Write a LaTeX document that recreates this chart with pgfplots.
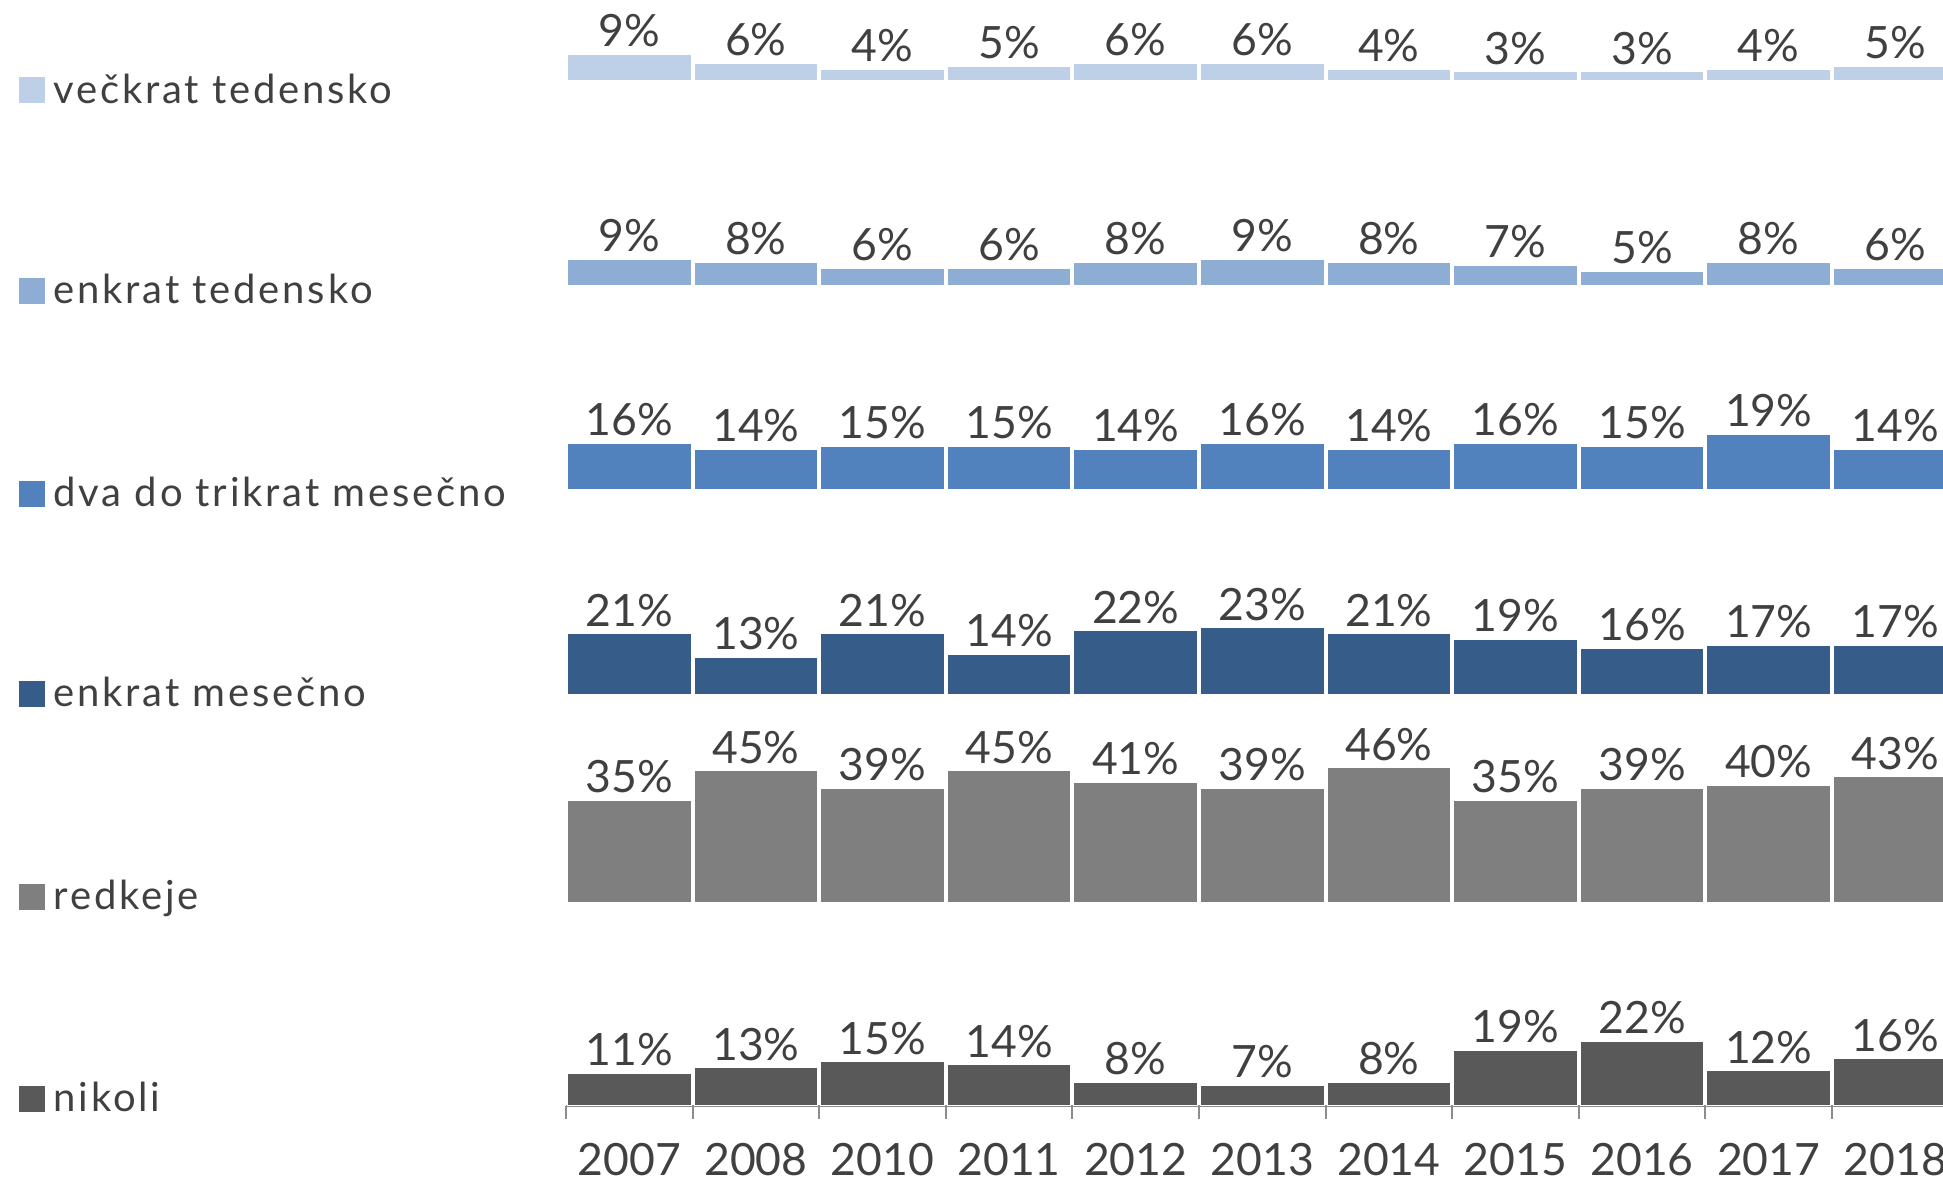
\documentclass[border=0pt]{standalone}
\usepackage{fontspec}
\setmainfont{Lato}
\newfontfamily\legfam[LetterSpace=7]{Lato}
\usepackage{pgfplots}
\pgfplotsset{compat=1.18}

\definecolor{txt}{HTML}{404040}
\definecolor{axgray}{HTML}{8C8C8C}
\definecolor{cA}{HTML}{BDD0E7}
\definecolor{cB}{HTML}{8EADD4}
\definecolor{cC}{HTML}{5282BE}
\definecolor{cD}{HTML}{365C8A}
\definecolor{cE}{HTML}{7F7F7F}
\definecolor{cF}{HTML}{595959}

\newcommand\labfont{\fontsize{22.25}{25}\selectfont}
\newcommand\legfont{\legfam\fontsize{20}{23}\selectfont}

% one axis per answer, all with the same x range; 1pt = 2px of the reference
\pgfplotsset{
  row/.style={
    at={(283pt,#1)}, anchor=south west,
    scale only axis, width=696.3pt, height=73pt,
    xmin=-0.5, xmax=10.5, ymin=0, ymax=50,
    ybar, bar width=61.8pt, clip=false,
    nodes near coords={\pgfmathprintnumber{\pgfplotspointmeta}\%},
    /pgf/number format/assume math mode=true,
    every node near coord/.append style={font=\labfont, text=txt,
      inner sep=0pt, anchor=south, yshift=3.35pt},
  },
  toprow/.style={row=#1, hide axis},
  bars/.style={fill=#1, draw=white, line width=0.5pt},
}

\begin{document}
\begin{tikzpicture}
\useasboundingbox (0,0) rectangle (971.5pt,591pt);

\begin{axis}[toprow=550.65pt]
\addplot[bars=cA] coordinates {(0,9) (1,6) (2,4) (3,5) (4,6) (5,6) (6,4) (7,3) (8,3) (9,4) (10,5)};
\end{axis}

\begin{axis}[toprow=448.15pt]
\addplot[bars=cB] coordinates {(0,9) (1,8) (2,6) (3,6) (4,8) (5,9) (6,8) (7,7) (8,5) (9,8) (10,6)};
\end{axis}

\begin{axis}[toprow=346pt]
\addplot[bars=cC] coordinates {(0,16) (1,14) (2,15) (3,15) (4,14) (5,16) (6,14) (7,16) (8,15) (9,19) (10,14)};
\end{axis}

\begin{axis}[toprow=243.5pt]
\addplot[bars=cD] coordinates {(0,21) (1,13) (2,21) (3,14) (4,22) (5,23) (6,21) (7,19) (8,16) (9,17) (10,17)};
\end{axis}

\begin{axis}[toprow=139.85pt]
\addplot[bars=cE] coordinates {(0,35) (1,45) (2,39) (3,45) (4,41) (5,39) (6,46) (7,35) (8,39) (9,40) (10,43)};
\end{axis}

\begin{axis}[row=38.15pt,
  axis x line=bottom, axis y line=none,
  x axis line style={draw=axgray, line width=1pt, -},
  xtick={0,...,10},
  xticklabels={2007,2008,2010,2011,2012,2013,2014,2015,2016,2017,2018},
  major tick length=0pt,
  minor xtick={-0.5,0.5,...,10.5}, minor tick length=6.5pt,
  tick align=outside,
  minor tick style={draw=axgray, line width=1pt},
  xticklabel style={font=\labfont, text=txt, anchor=base, inner sep=0pt, yshift=-35pt},
]
\addplot[bars=cF] coordinates {(0,11) (1,13) (2,15) (3,14) (4,8) (5,7) (6,8) (7,19) (8,22) (9,12) (10,16)};
\end{axis}

% legend
\foreach \col/\lab/\bl in {cA/večkrat tedensko/539.25, cB/enkrat tedensko/439,
    cC/dva do trikrat mesečno/337.65, cD/enkrat mesečno/237.65,
    cE/redkeje/136, cF/nikoli/35.15} {
  \fill[\col] (9.5pt,\bl pt) rectangle (22.5pt,\bl pt+13pt);
  \node[anchor=base west, inner sep=0pt, font=\legfont, text=txt] at (26.65pt,\bl pt) {\lab};
}
\end{tikzpicture}
\end{document}
